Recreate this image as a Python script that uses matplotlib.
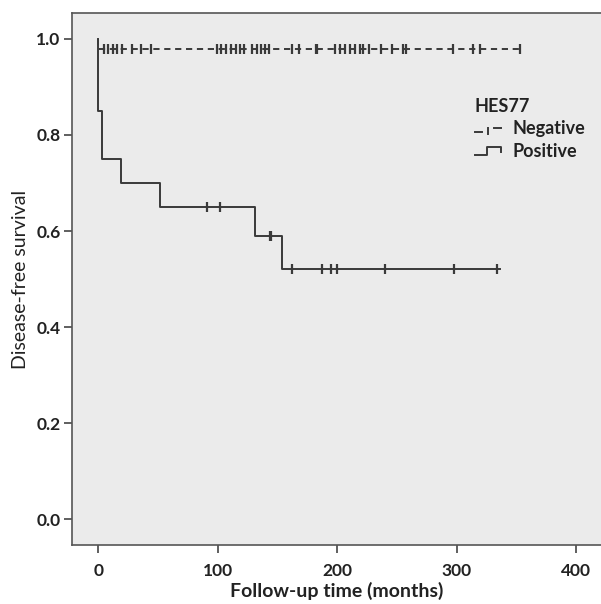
import numpy as np
import matplotlib
matplotlib.use('Agg')
import matplotlib.pyplot as plt
from matplotlib.lines import Line2D
from matplotlib.legend_handler import HandlerBase

plt.rcParams['font.family'] = ['Lato', 'DejaVu Sans']

# data (months, survival proportion)
neg_drop_times = [0]
neg_levels = [0.98]
neg_end = 355
neg_censor = [5, 8, 12, 16, 20, 28, 36, 44, 99, 103, 107, 111, 115, 119,
              122, 129, 133, 136, 140, 143, 162, 168, 182, 183, 198, 202,
              207, 211, 215, 219, 222, 227, 237, 246, 255, 258, 297, 314,
              320, 353]

pos_drop_times = [0, 3, 19, 52, 131, 154]
pos_levels = [0.85, 0.75, 0.70, 0.65, 0.59, 0.52]
pos_end = 336
pos_censor = [91, 102, 144, 145, 162, 187, 195, 200, 240, 298, 334]

x_ticks = [0, 100, 200, 300, 400]
y_ticks = [0.0, 0.2, 0.4, 0.6, 0.8, 1.0]

line_col = '#3a3a3a'


def step_xy(drops, levels, end):
    xs = [0] + list(drops) + [end]
    ys = [1.0] + list(levels) + [levels[-1]]
    return xs, ys


def level_at(drops, levels, t):
    idx = np.searchsorted(drops, t, side='right') - 1
    return np.array(levels)[idx]


class KMHandler(HandlerBase):
    def __init__(self, kind):
        super().__init__()
        self.kind = kind

    def create_artists(self, legend, orig_handle, xd, yd, w, h, fontsize, trans):
        kw = dict(color=line_col, lw=1.4, transform=trans)
        if self.kind == 'neg':
            parts = [([0.0, 0.25], [0.15, 0.15]),
                     ([0.5, 0.5], [0.05, 0.5]),
                     ([0.72, 0.95], [0.5, 0.5])]
        else:
            parts = [([0.0, 0.45, 0.45, 0.95, 0.95], [0.15, 0.15, 0.8, 0.8, 0.4])]
        arts = []
        for px, py in parts:
            arts.append(Line2D(np.array(px) * w - xd, np.array(py) * h - yd, **kw))
        return arts


fig = plt.figure(figsize=(6.01, 6.04), dpi=100)
ax = fig.add_axes([0.1193, 0.0977, 0.8807, 0.8803])
ax.set_facecolor('#ebebeb')

x, y = step_xy(neg_drop_times, neg_levels, neg_end)
h_neg, = ax.step(x, y, where='post', color=line_col, lw=1.4,
                 dashes=(3.2, 2.4))
ax.plot(neg_censor, level_at(neg_drop_times, neg_levels, neg_censor),
        ls='none', marker='|', ms=7, mew=1.6, color=line_col)

x, y = step_xy(pos_drop_times, pos_levels, pos_end)
h_pos, = ax.step(x, y, where='post', color=line_col, lw=1.4)
ax.plot(pos_censor, level_at(pos_drop_times, pos_levels, pos_censor),
        ls='none', marker='|', ms=7, mew=1.6, color=line_col)

ax.set_xlim(-22.3, 421)
ax.set_ylim(-0.054, 1.0535)
ax.set_xticks(x_ticks)
ax.set_yticks(y_ticks)
ax.set_yticklabels([f'{v:.1f}' for v in y_ticks])
ax.tick_params(length=6, width=1.2, color='#444444', labelsize=12.5,
               labelcolor='#222222')
ax.tick_params(axis='y', pad=2)
ax.tick_params(axis='x', pad=7)
for lab in ax.get_xticklabels() + ax.get_yticklabels():
    lab.set_fontweight('bold')

for side in ['left', 'bottom', 'top']:
    ax.spines[side].set_color('#555555')
    ax.spines[side].set_linewidth(1.2)
ax.spines['right'].set_visible(False)

ax.set_xlabel('Follow-up time (months)', fontsize=14, fontweight='bold',
              color='#222222', labelpad=2)
ax.set_ylabel('Disease-free survival', fontsize=14, color='#222222',
              labelpad=5)

leg = ax.legend([h_neg, h_pos], ['Negative', 'Positive'],
                handler_map={h_neg: KMHandler('neg'), h_pos: KMHandler('pos')},
                title='HES77', loc='upper left',
                bbox_to_anchor=(0.775, 0.853), bbox_transform=fig.transFigure,
                frameon=False, borderpad=0, handlelength=1.5,
                handletextpad=0.6, labelspacing=0.3, alignment='left',
                prop={'size': 13, 'weight': 'bold'},
                title_fontproperties={'size': 13, 'weight': 'bold'})
for t in leg.get_texts():
    t.set_color('#222222')
leg.get_title().set_color('#222222')

fig.savefig('out.png', dpi=100, facecolor='white')
